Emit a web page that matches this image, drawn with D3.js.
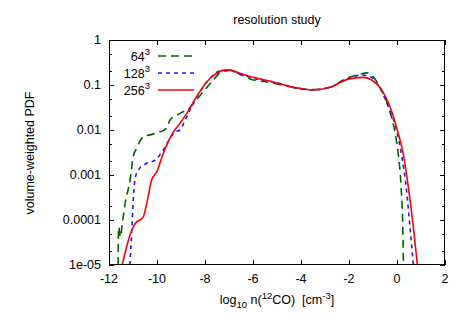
<!DOCTYPE html>
<html><head><meta charset="utf-8">
<script src="https://cdn.jsdelivr.net/npm/d3@7"></script>
<style>body{margin:0;background:#fff}svg{display:block}text{font-family:"Liberation Sans",Arial,sans-serif;fill:#000}</style>
</head><body>
<script>
const title = "resolution study";
const xTicks = [-12,-10,-8,-6,-4,-2,0,2];
const yTicks = [1,0.1,0.01,0.001,0.0001,0.00001];
const yTickLabels = ["1","0.1","0.01","0.001","0.0001","1e-05"];
const seriesNames = ["64", "128", "256"];

const x64 = [-11.62,-11.6,-11.52,-11.45,-11.33,-11.12,-10.99,-10.85,-10.57,-10.29,-9.88,-9.6,-9.46,-9.04,-8.63,-8.35,-8.07,-7.65,-7.3,-6.96,-6.54,-5.99,-5.43,-4.6,-3.49,-2.79,-2.1,-1.54,-1.26,-1.05,-0.71,-0.36,-0.08,0.05,0.17,0.24,0.27];
const y64 = [1e-5,7e-5,4.2e-5,8e-5,2.3e-4,7.8e-4,2.57e-3,3.9e-3,7.1e-3,7.8e-3,9.1e-3,1.1e-2,1.66e-2,2.34e-2,3.16e-2,4.7e-2,7.1e-2,0.129,0.2,0.214,0.174,0.129,0.117,0.095,0.079,0.089,0.141,0.174,0.186,0.162,0.091,0.033,0.0085,0.003,0.00055,7.1e-5,1e-5];

const x128 = [-11.13,-11.05,-10.99,-10.92,-10.78,-10.43,-10.08,-9.74,-9.46,-9.25,-9.04,-8.83,-8.63,-8.21,-7.79,-7.38,-6.96,-6.54,-5.85,-5.01,-4.18,-3.49,-2.79,-2.1,-1.47,-1.12,-0.71,-0.36,0.01,0.2,0.38,0.54,0.68];
const y128 = [1e-5,6e-5,2.75e-4,7.8e-4,1.29e-3,1.82e-3,2.14e-3,3.6e-3,6.5e-3,9.1e-3,0.01,0.0166,0.0275,0.071,0.141,0.204,0.209,0.174,0.135,0.112,0.085,0.078,0.089,0.135,0.166,0.155,0.085,0.033,0.0085,0.00257,0.00055,7.1e-5,1e-5];

const x256 = [-11.45,-11.26,-11.05,-10.85,-10.71,-10.57,-10.43,-10.22,-10.01,-9.74,-9.39,-9.04,-8.76,-8.35,-7.93,-7.51,-7.21,-6.96,-6.54,-5.99,-5.15,-4.32,-3.49,-2.79,-2.03,-1.4,-1.05,-0.64,-0.29,0.05,0.26,0.47,0.68,0.85];
const y256 = [1e-5,2.6e-5,6e-5,9.1e-5,1e-4,1.17e-4,2.3e-4,7.8e-4,1.17e-3,3e-3,7.8e-3,0.0141,0.0234,0.055,0.117,0.182,0.214,0.214,0.182,0.148,0.117,0.089,0.078,0.089,0.135,0.148,0.129,0.078,0.033,0.0085,0.003,0.00055,7.1e-5,1e-5];

const colors = ["#006400","#1a1aff","#ff0000"];
const dashes = ["8,5","4,4",null];

const W=460,H=322;
const m={l:109,r:15,t:40,b:57};
const svg=d3.select("body").append("svg").attr("width",W).attr("height",H);
const xs=d3.scaleLinear().domain([-12,2]).range([m.l,W-m.r]);
const ys=d3.scaleLog().domain([1e-5,1]).range([H-m.b,m.t]);

svg.append("defs").append("clipPath").attr("id","clip").append("rect")
  .attr("x",m.l).attr("y",m.t).attr("width",W-m.r-m.l).attr("height",H-m.b-m.t);

// ticks
const g=svg.append("g").attr("stroke","#000").attr("stroke-width",1);
xTicks.forEach(v=>{
  const X=Math.round(xs(v))+0.5;
  g.append("line").attr("x1",X).attr("x2",X).attr("y1",H-m.b).attr("y2",H-m.b-5);
  g.append("line").attr("x1",X).attr("x2",X).attr("y1",m.t).attr("y2",m.t+5);
});
yTicks.forEach(v=>{
  const Y=Math.round(ys(v))+0.5;
  g.append("line").attr("x1",m.l).attr("x2",m.l+5).attr("y1",Y).attr("y2",Y);
  g.append("line").attr("x1",W-m.r).attr("x2",W-m.r-5).attr("y1",Y).attr("y2",Y);
});
[1e-5,1e-4,1e-3,1e-2,1e-1].forEach(d=>{[2,5].forEach(k=>{
  const Y=Math.round(ys(d*k))+0.5;
  g.append("line").attr("x1",m.l).attr("x2",m.l+3).attr("y1",Y).attr("y2",Y);
  g.append("line").attr("x1",W-m.r).attr("x2",W-m.r-3).attr("y1",Y).attr("y2",Y);
});});

// labels
const fs=12.5;
xTicks.forEach(v=>{
  svg.append("text").attr("x",xs(v)).attr("y",H-m.b+18).attr("text-anchor","middle").attr("font-size",fs).text(v<0?"-"+Math.abs(v):v);
});
yTicks.forEach((v,i)=>{
  svg.append("text").attr("x",m.l-8).attr("y",ys(v)+4).attr("text-anchor","end").attr("font-size",fs).text(yTickLabels[i]);
});
svg.append("text").attr("x",277).attr("y",24).attr("text-anchor","middle").attr("font-size",fs).text(title);
svg.append("text").attr("transform","translate(34,153) rotate(-90)").attr("text-anchor","middle").attr("font-size",fs).text("volume-weighted PDF");
const xl=svg.append("text").attr("x",277).attr("y",304).attr("text-anchor","middle").attr("font-size",fs);
xl.append("tspan").text("log");
xl.append("tspan").attr("font-size",9.5).attr("dy",4).text("10");
xl.append("tspan").attr("dy",-4).text("\u00a0n(");
xl.append("tspan").attr("font-size",9.5).attr("dy",-5).text("12");
xl.append("tspan").attr("dy",5).text("CO)\u00a0\u00a0[cm");
xl.append("tspan").attr("font-size",9.5).attr("dy",-5).text("-3");
xl.append("tspan").attr("dy",5).text("]");

// curves
const line=d3.line().x(d=>xs(d[0])).y(d=>ys(d[1])).curve(d3.curveMonotoneX);
const data=[[x64,y64],[x128,y128],[x256,y256]];
const cg=svg.append("g").attr("clip-path","url(#clip)");
data.forEach((s,i)=>{
  const pts=s[0].map((xv,j)=>[xv,s[1][j]]);
  const p=cg.append("path").datum(pts).attr("d",line).attr("fill","none")
    .attr("stroke",colors[i]).attr("stroke-width",1.6);
  if(dashes[i]) p.attr("stroke-dasharray",dashes[i]);
});

// legend
const legY=[56,73,90];
seriesNames.forEach((n,i)=>{
  const t=svg.append("text").attr("x",150).attr("y",legY[i]+5).attr("text-anchor","end").attr("font-size",fs);
  t.append("tspan").text(n);
  t.append("tspan").attr("font-size",9.5).attr("dy",-6).text("3");
  const l=svg.append("line").attr("x1",158).attr("x2",194).attr("y1",legY[i]).attr("y2",legY[i])
    .attr("stroke",colors[i]).attr("stroke-width",1.6);
  if(dashes[i]) l.attr("stroke-dasharray",dashes[i]);
});

// border
svg.append("rect").attr("x",m.l+0.5).attr("y",m.t+0.5).attr("width",W-m.r-m.l-1).attr("height",H-m.b-m.t-1)
  .attr("fill","none").attr("stroke","#000").attr("stroke-width",1);
</script>
</body></html>
